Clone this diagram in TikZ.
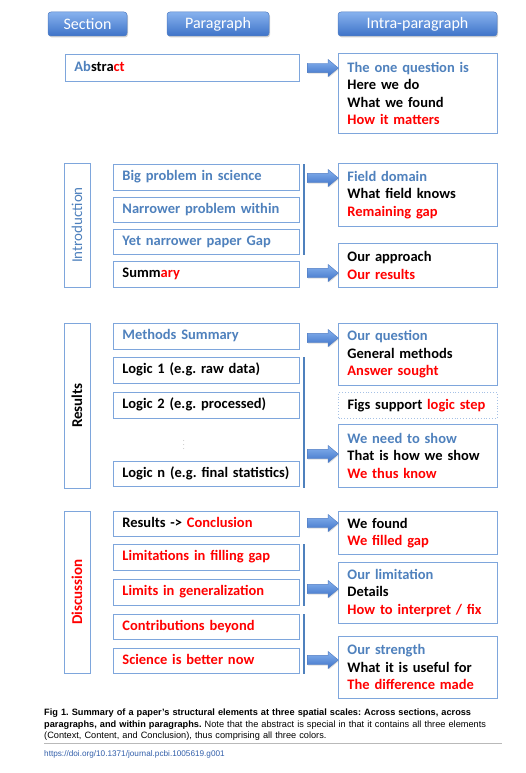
\documentclass[tikz,border=0pt]{standalone}
\usepackage{fontspec}
\setmainfont{Carlito}
\newfontfamily\capfont{Liberation Sans}
\usetikzlibrary{shapes.arrows,shadows}
\definecolor{txtblue}{RGB}{79,129,189}
\definecolor{boxline}{RGB}{126,166,220}
\definecolor{txtred}{RGB}{255,0,0}
\definecolor{btntop}{RGB}{135,178,238}
\definecolor{btnbot}{RGB}{62,115,200}
\definecolor{btnedge}{RGB}{80,125,195}
\definecolor{doiblue}{RGB}{50,95,170}
\newcommand{\bl}[1]{{\color{txtblue}#1}}
\newcommand{\rd}[1]{{\color{txtred}#1}}
\begin{document}
\frenchspacing
\begin{tikzpicture}[x=1pt,y=-1pt,
  boxfont/.style={font=\bfseries\fontsize{14.5}{17.5}\selectfont},
  pbox/.style={boxfont, draw=boxline, line width=0.9pt, anchor=north west,
     minimum height=#1, text width=168pt, inner xsep=9pt, inner ysep=0pt,
     align=left, text height=10pt, text depth=3pt},
  absbox/.style={pbox=#1, text width=216pt},
  rbox/.style={boxfont, draw=boxline, line width=0.9pt, anchor=north west,
     minimum height=#1, text width=141pt, inner xsep=9pt, inner ysep=2pt,
     align=left},
  dotbox/.style={rbox=#1, draw=boxline!70, dotted, line width=1pt, text height=10pt, text depth=3pt},
  sidebox/.style={draw=boxline, line width=0.9pt, rotate=90, minimum height=26pt,
     minimum width=#1, inner sep=0pt, font=\fontsize{15}{17}\selectfont},
  hbtn/.style={rounded corners=3pt, top color=btntop, bottom color=btnbot,
     draw=btnedge, line width=0.5pt, drop shadow={opacity=0.35, shadow xshift=1pt, shadow yshift=-1.5pt},
     text=white, minimum width=#1, minimum height=24pt, inner sep=0pt,
     font=\fontsize{16}{18}\selectfont},
  barrow/.style={single arrow, minimum height=31pt, text height=9pt, text depth=0pt,
     text width=0pt, single arrow head extend=3.8pt, single arrow tip angle=80, inner sep=0pt,
     top color=btntop, bottom color=btnbot, draw=btnedge, line width=0.4pt,
     drop shadow={opacity=0.25, shadow xshift=0.8pt, shadow yshift=-1pt}},
  brk/.style={draw=txtblue, line width=1.3pt}
]
\useasboundingbox[fill=white] (0,0) rectangle (526,773);

% headers
\node[hbtn=79pt] (hsec) at (87.5,24) {Section};
\node[hbtn=102pt] (hpar) at (218,24) {Paragraph};
\node[hbtn=159pt] (hintra) at (417.5,24) {Intra-paragraph};

% abstract
\node[absbox=27pt] (abs) at (65,54) {\bl{Ab}stra\rd{ct}};
\node[rbox=80pt] (r0) at (338,53) {\bl{The one question is}\\Here we do\\What we found\\\rd{How it matters}};
\node[barrow] (a0) at (320,68) {};

% introduction
\node[sidebox=124pt, text=txtblue] (intro) at (77,225) {Introduction};
\node[pbox=26pt] (b1) at (113,164) {\bl{Big problem in science}};
\node[pbox=25pt] (b2) at (113,197) {\bl{Narrower problem within}};
\node[pbox=25pt] (b3) at (113,229) {\bl{Yet narrower paper Gap}};
\node[pbox=26pt] (b4) at (113,261) {Summ\rd{ary}};
\draw[brk] ([xshift=4pt]b1.north east) -- ([xshift=4pt]b3.south east);
\node[rbox=63pt] (r1) at (338,163) {\bl{Field domain}\\What field knows\\\rd{Remaining gap}};
\node[rbox=44pt] (r2) at (338,243) {Our approach\\\rd{Our results}};
\node[barrow] (a1) at (320,178) {};
\node[barrow] (a2) at (320,273) {};

% results
\node[sidebox=165pt, font=\bfseries\fontsize{15}{17}\selectfont] (res) at (77,405.5) {Results};
\node[pbox=26pt] (m1) at (113,323) {\bl{Methods Summary}};
\node[pbox=26pt] (l1) at (113,357) {Logic 1 (e.g. raw data)};
\node[pbox=26pt] (l2) at (113,392) {Logic 2 (e.g. processed)};
\node[text=gray, inner sep=0pt, font=\fontsize{6}{6}\selectfont] (dots) at (184,442) {$\vdots$};
\node[pbox=25pt] (ln) at (113,461) {\mbox{Logic n (e.g. final statistics)}};
\draw[brk] ([xshift=4pt]l1.north east) -- ([xshift=4pt,yshift=-1pt]ln.south east);
\node[rbox=62pt] (r3) at (338,323) {\bl{Our question}\\General methods\\\rd{Answer sought}};
\node[dotbox=26pt] (rd) at (338,392) {Figs support \rd{logic step}};
\node[rbox=63pt] (r4) at (338,424) {\bl{We need to show}\\That is how we show\\\rd{We thus know}};
\node[barrow] (a3) at (320,338) {};
\node[barrow] (a4) at (320,454) {};

% discussion
\node[sidebox=162pt, text=txtred, font=\bfseries\fontsize{15}{17}\selectfont] (disc) at (77,592) {Discussion};
\node[pbox=25pt] (d1) at (113,511) {Results -> \rd{Conclusion}};
\node[pbox=26pt] (d2) at (113,544) {\rd{Limitations in filling gap}};
\node[pbox=26pt] (d3) at (113,579) {\rd{Limits in generalization}};
\node[pbox=25pt] (d4) at (113,614) {\rd{Contributions beyond}};
\node[pbox=25pt] (d5) at (113,648) {\rd{Science is better now}};
\draw[brk] ([xshift=4pt]d2.north east) -- ([xshift=4pt]d3.south east);
\draw[brk] ([xshift=4pt]d4.north east) -- ([xshift=4pt]d5.south east);
\node[rbox=43pt] (r5) at (338,511) {We found\\\rd{We filled gap}};
\node[rbox=61pt] (r6) at (338,562) {\bl{Our limitation}\\Details\\\rd{How to interpret / fix}};
\node[rbox=62pt] (r7) at (338,636) {\bl{Our strength}\\What it is useful for\\\rd{The difference made}};
\node[barrow] (a5) at (320,523) {};
\node[barrow] (a6) at (320,589) {};
\node[barrow] (a7) at (320,660) {};

% caption
\node[anchor=north west, inner sep=0pt, text width=478pt, align=left,
      font=\capfont\fontsize{9.2}{11.5}\selectfont] (cap) at (44,709)
  {\textbf{Fig 1. Summary of a paper’s structural elements at three spatial scales: Across sections, across}\\
   \textbf{paragraphs, and within paragraphs.} Note that the abstract is special in that it contains all three elements\\
   (Context, Content, and Conclusion), thus comprising all three colors.};
\draw[gray!55, line width=0.6pt] (44,743.5) -- (502,743.5);
\node[anchor=west, inner sep=0pt, text=doiblue, font=\capfont\fontsize{8.2}{10}\selectfont] (doi) at (44,754.5)
  {https://doi.org/10.1371/journal.pcbi.1005619.g001};
\end{tikzpicture}
\end{document}
